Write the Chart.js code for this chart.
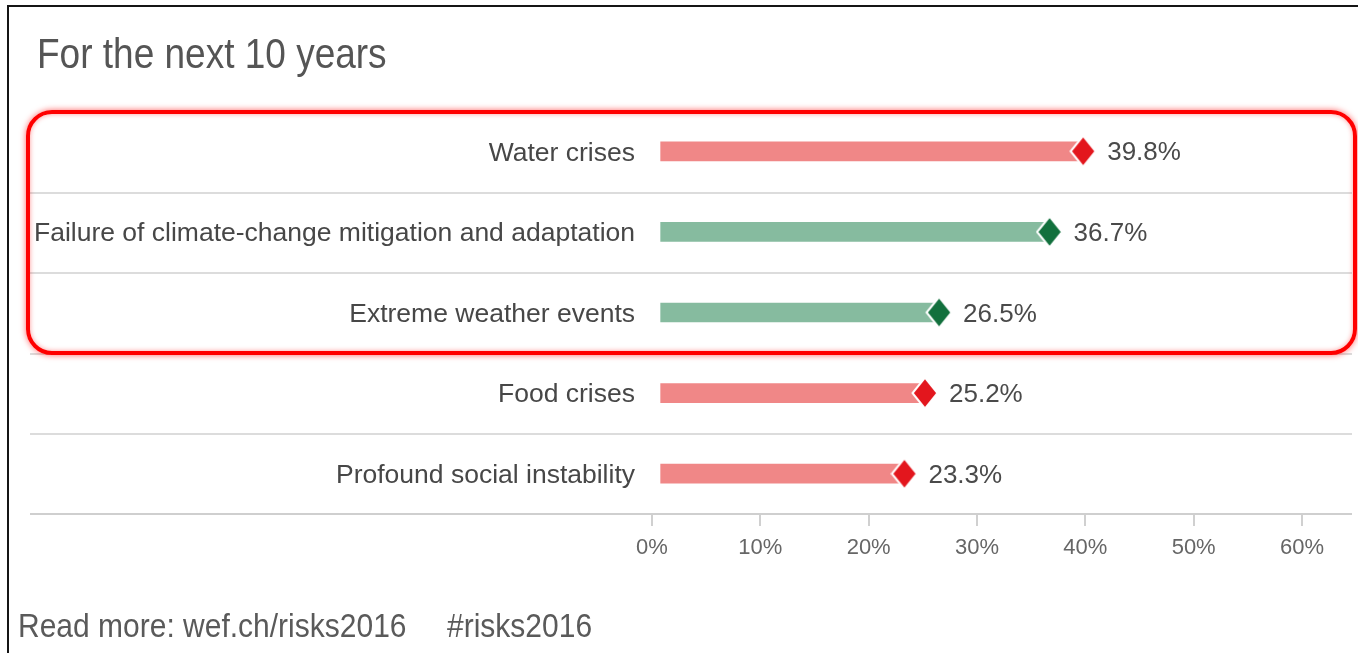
<!DOCTYPE html>
<html>
<head>
<meta charset="utf-8">
<title>For the next 10 years</title>
<script src="https://cdn.jsdelivr.net/npm/chart.js@4.4.1/dist/chart.umd.min.js"></script>
<style>
    html, body { margin: 0; padding: 0; background: #fff; }
    body { width: 1358px; height: 653px; position: relative; overflow: hidden;
           font-family: "Liberation Sans", Arial, sans-serif; }
    #chart { position: absolute; left: 0; top: 0; }
    .frame { position: absolute; left: 7px; top: 5px; width: 1360px; height: 660px;
             border-top: 2px solid #151515; border-left: 2px solid #151515; }
    .highlight { position: absolute; left: 26px; top: 110px; width: 1331px; height: 245px;
                 box-sizing: border-box; border: 4px solid #ff0000; border-radius: 26px;
                 box-shadow: 0 0 6px rgba(255, 0, 0, 0.6), inset 0 0 5px rgba(255, 0, 0, 0.4); }
    .title { position: absolute; left: 37px; top: 37px; font-size: 37px; line-height: 37px;
             color: #555; white-space: nowrap; transform: scaleY(1.15); transform-origin: 0 31px; }
    .footer { position: absolute; top: 612px; font-size: 30px; line-height: 30px; color: #5a5a5a;
              white-space: nowrap; transform: scaleY(1.08); transform-origin: 0 25px; }
</style>
</head>
<body>
<canvas id="chart" width="1358" height="653"></canvas>
<div class="frame"></div>
<div class="title">For the next 10 years</div>
<div class="footer" style="left:18px">Read more: wef.ch/risks2016</div>
<div class="footer" style="left:447px">#risks2016</div>
<div class="highlight"></div>

<script>
// ---------------------------------------------------------------------------
// Chart data
// ---------------------------------------------------------------------------
var categories = [
    'Water crises',
    'Failure of climate-change mitigation and adaptation',
    'Extreme weather events',
    'Food crises',
    'Profound social instability'
];
var riskValues = [39.8, 36.7, 26.5, 25.2, 23.3];
var riskGroups = ['societal', 'environmental', 'environmental', 'societal', 'societal'];
var tickValues = [0, 10, 20, 30, 40, 50, 60];

// Colours per risk group
var barColors = { societal: '#f08787', environmental: '#86bb9f' };
var markerColors = { societal: '#e3161d', environmental: '#12703d' };

(function() {
    'use strict';

    var FONT = '"Liberation Sans", Arial, sans-serif';
    var BAR_START = 0.8;   // bars begin a little right of the 0% tick

    // Tall diamond marker drawn on a small canvas, used as pointStyle
    function makeDiamond(color) {
        var c = document.createElement('canvas');
        c.width = 28;
        c.height = 34;
        var g = c.getContext('2d');
        g.beginPath();
        g.moveTo(14, 1.5);
        g.lineTo(26.5, 17);
        g.lineTo(14, 32.5);
        g.lineTo(1.5, 17);
        g.closePath();
        g.fillStyle = color;
        g.fill();
        g.lineWidth = 2;
        g.strokeStyle = '#ffffff';
        g.stroke();
        return c;
    }

    var diamondCache = {};
    var markers = riskGroups.map(function(grp) {
        if (!diamondCache[grp]) diamondCache[grp] = makeDiamond(markerColors[grp]);
        return diamondCache[grp];
    });

    // Row separators and baseline, running the full width like the original
    var rowLines = {
        id: 'rowLines',
        beforeDatasetsDraw: function(chart) {
            var ctx = chart.ctx;
            var y = chart.scales.y;
            var area = chart.chartArea;
            ctx.save();
            ctx.lineWidth = 2;
            ctx.strokeStyle = '#dcdcdc';
            for (var i = 0; i < categories.length - 1; i++) {
                var yy = Math.round((y.getPixelForValue(i) + y.getPixelForValue(i + 1)) / 2) + 1;
                ctx.beginPath();
                ctx.moveTo(30, yy);
                ctx.lineTo(1352, yy);
                ctx.stroke();
            }
            ctx.strokeStyle = '#cfcfcf';
            ctx.beginPath();
            ctx.moveTo(30, area.bottom);
            ctx.lineTo(1352, area.bottom);
            ctx.stroke();
            ctx.restore();
        }
    };

    // Percentage labels to the right of each diamond
    var valueLabels = {
        id: 'valueLabels',
        afterDatasetsDraw: function(chart) {
            var ctx = chart.ctx;
            var meta = chart.getDatasetMeta(1);
            ctx.save();
            ctx.font = '26px ' + FONT;
            ctx.fillStyle = '#4a4a4a';
            ctx.textAlign = 'left';
            ctx.textBaseline = 'middle';
            meta.data.forEach(function(pt, i) {
                ctx.fillText(riskValues[i].toFixed(1) + '%', pt.x + 24, pt.y + 2);
            });
            ctx.restore();
        }
    };

    new Chart(document.getElementById('chart'), {
        type: 'bar',
        data: {
            labels: categories,
            datasets: [{
                data: riskValues,
                base: BAR_START,
                barThickness: 19,
                backgroundColor: riskGroups.map(function(g) { return barColors[g]; }),
                borderWidth: 0,
                order: 2
            }, {
                type: 'line',
                data: riskValues,
                showLine: false,
                pointStyle: markers,
                pointRadius: 13,
                clip: false,
                order: 1
            }]
        },
        options: {
            indexAxis: 'y',
            responsive: false,
            animation: false,
            events: [],
            layout: { padding: { left: 30, right: 56, top: 111, bottom: 79 } },
            plugins: {
                legend: { display: false },
                tooltip: { enabled: false }
            },
            scales: {
                y: {
                    grid: { display: false },
                    border: { display: false },
                    ticks: {
                        font: { family: FONT, size: 26.5 },
                        color: '#474747',
                        padding: 9,
                        labelOffset: 2
                    },
                    afterFit: function(scale) { scale.width = 622; }
                },
                x: {
                    min: tickValues[0],
                    max: tickValues[tickValues.length - 1],
                    afterBuildTicks: function(scale) {
                        scale.ticks = tickValues.map(function(v) { return { value: v }; });
                    },
                    grid: {
                        drawOnChartArea: false,
                        drawTicks: true,
                        tickLength: 12,
                        color: '#d0d0d0',
                        lineWidth: 2
                    },
                    border: { display: false },
                    ticks: {
                        font: { family: FONT, size: 22 },
                        color: '#666',
                        padding: 9,
                        maxRotation: 0,
                        callback: function(v) { return v + '%'; }
                    },
                    afterFit: function(scale) { scale.height = 60; }
                }
            }
        },
        plugins: [rowLines, valueLabels]
    });
})();
</script>
</body>
</html>
